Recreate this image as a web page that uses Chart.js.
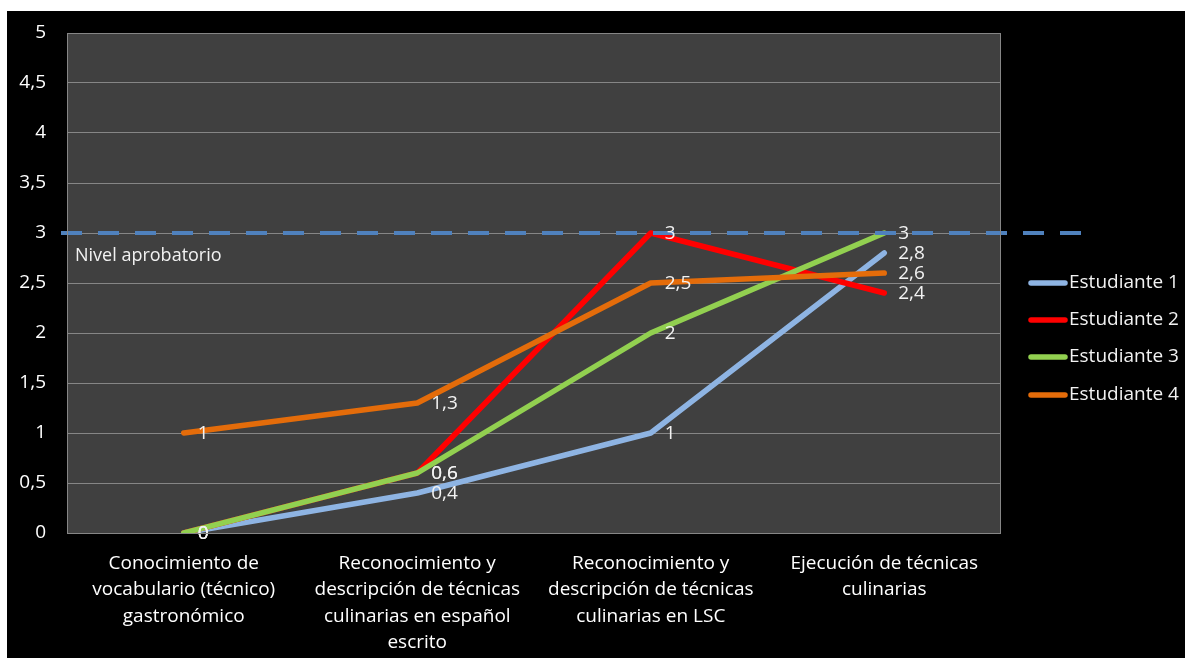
<!DOCTYPE html>
<html>
<head>
<meta charset="utf-8">
<script src="https://cdn.jsdelivr.net/npm/chart.js@4/dist/chart.umd.min.js"></script>
<style>
  html, body { margin:0; padding:0; background:#fff; }
  #wrap { position:absolute; left:7px; top:11px; width:1178px; height:647px; background:#000; }
</style>
</head>
<body>
<div id="wrap"><canvas id="chart" width="1178" height="647"></canvas></div>
<script>
const categorias = [
  ['Conocimiento de', 'vocabulario (técnico)', 'gastronómico'],
  ['Reconocimiento y', 'descripción de técnicas', 'culinarias en español', 'escrito'],
  ['Reconocimiento y', 'descripción de técnicas', 'culinarias en LSC'],
  ['Ejecución de técnicas', 'culinarias']
];
const estudiante1 = [0, 0.4, 1, 2.8];
const estudiante2 = [0, 0.6, 3, 2.4];
const estudiante3 = [0, 0.6, 2, 3];
const estudiante4 = [1, 1.3, 2.5, 2.6];
const nombres = ['Estudiante 1', 'Estudiante 2', 'Estudiante 3', 'Estudiante 4'];
const colores = ['#8EB4E3', '#FF0000', '#92D050', '#E46C0A'];
const nivelAprobatorio = 3;
const etiquetaNivel = 'Nivel aprobatorio';

const FUENTE = '"Open Sans", Lato, sans-serif';
const coma = v => String(v).replace('.', ',');

// fondo del area de trazado + borde
const fondoPlot = {
  id: 'fondoPlot',
  beforeDraw(chart){
    const {ctx, chartArea:a} = chart;
    ctx.save();
    ctx.fillStyle = '#404040';
    ctx.fillRect(a.left, a.top, a.right - a.left, a.bottom - a.top);
    ctx.restore();
  },
  afterDraw(chart){
    const {ctx, chartArea:a} = chart;
    ctx.save();
    ctx.strokeStyle = '#868686';
    ctx.lineWidth = 1;
    ctx.strokeRect(a.left + 0.5, a.top + 0.5, a.right - a.left - 1, a.bottom - a.top);
    ctx.restore();
  }
};

// linea de nivel, etiquetas de datos y leyenda
const extras = {
  id: 'extras',
  afterDatasetsDraw(chart){
    const {ctx} = chart;
    const y = chart.scales.y.getPixelForValue(nivelAprobatorio);
    ctx.save();
    ctx.strokeStyle = '#4F81BD';
    ctx.lineWidth = 4;
    ctx.setLineDash([21, 16]);
    ctx.beginPath();
    ctx.moveTo(54, y);
    ctx.lineTo(1076, y);
    ctx.stroke();
    ctx.setLineDash([]);

    ctx.font = '18px ' + FUENTE;
    ctx.fillStyle = '#F2F2F2';
    ctx.textBaseline = 'middle';
    ctx.textAlign = 'left';
    ctx.fillText(etiquetaNivel, 68, y + 23);

    ctx.font = '19px ' + FUENTE;
    chart.data.datasets.forEach((ds, i) => {
      const meta = chart.getDatasetMeta(i);
      meta.data.forEach((pt, j) => {
        ctx.fillText(coma(ds.data[j]), pt.x + 14, pt.y + 1);
      });
    });

    // leyenda
    const ys = [272, 309, 346, 384];
    chart.data.datasets.forEach((ds, i) => {
      ctx.strokeStyle = ds.borderColor;
      ctx.lineWidth = 5.5;
      ctx.lineCap = 'round';
      ctx.beginPath();
      ctx.moveTo(1024, ys[i]);
      ctx.lineTo(1058, ys[i]);
      ctx.stroke();
      ctx.fillText(ds.label, 1062, ys[i]);
    });
    ctx.restore();
  }
};

const series = [estudiante1, estudiante2, estudiante3, estudiante4];

new Chart(document.getElementById('chart'), {
  type: 'line',
  data: {
    labels: categorias,
    datasets: series.map((d, i) => ({
      label: nombres[i],
      data: d,
      borderColor: colores[i],
      backgroundColor: colores[i],
      borderWidth: 5.5,
      pointRadius: 0,
      borderCapStyle: 'round',
      borderJoinStyle: 'round',
      tension: 0,
      order: 4 - i
    }))
  },
  options: {
    responsive: false,
    animation: false,
    layout: { padding: { top: 22, right: 184, left: 0, bottom: 0 } },
    plugins: { legend: { display: false }, tooltip: { enabled: false } },
    scales: {
      x: {
        offset: true,
        grid: { display: false, drawTicks: false },
        border: { display: false },
        ticks: {
          color: '#FFFFFF',
          font: { family: FUENTE, size: 19, lineHeight: '26.5px' },
          padding: 17,
          maxRotation: 0,
          autoSkip: false
        },
        afterFit(s){ s.height = 125; s.paddingLeft = 0; s.paddingRight = 0; }
      },
      y: {
        min: 0, max: 5,
        grid: { color: '#868686', lineWidth: 1, drawTicks: false },
        border: { display: false },
        ticks: {
          stepSize: 0.5,
          color: '#FFFFFF',
          font: { family: FUENTE, size: 19 },
          padding: 21,
          callback: v => coma(v)
        },
        afterFit(s){ s.width = 60; s.paddingTop = 0; s.paddingBottom = 0; }
      }
    }
  },
  plugins: [fondoPlot, extras]
});
</script>
</body>
</html>
